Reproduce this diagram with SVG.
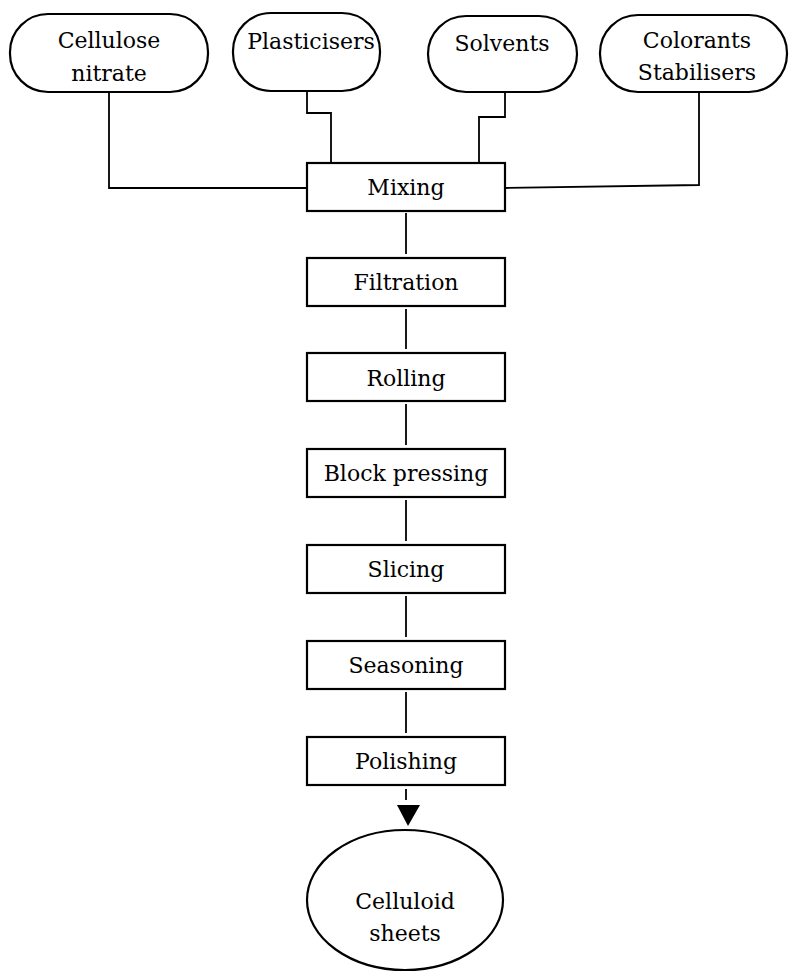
<svg xmlns="http://www.w3.org/2000/svg" width="789" height="972" viewBox="0 0 789 972">
<style>
  .shape { fill: #ffffff; stroke: #000000; stroke-width: 2.2; }
  .conn { fill: none; stroke: #000000; stroke-width: 1.8; }
  .lbl { font-family: "DejaVu Serif", "Liberation Serif", serif; font-size: 22px; fill: #000000; text-anchor: middle; }
</style>
<rect width="789" height="972" fill="#ffffff"/>
<g id="connectors">
  <path class="conn" d="M109 92 V188 H307"/>
  <path class="conn" d="M307 91 V113 H331 V163"/>
  <path class="conn" d="M505 92 V117 H479 V163"/>
  <path class="conn" d="M699 92 V185 L505 188"/>
  <path class="conn" d="M406 213 V254"/>
  <path class="conn" d="M406 309 V349"/>
  <path class="conn" d="M406 404 V445"/>
  <path class="conn" d="M406 500 V541"/>
  <path class="conn" d="M406 596 V637"/>
  <path class="conn" d="M406 692 V733"/>
  <path class="conn" d="M406 789 V800"/>
  <polygon points="397,805 420,805 408,826" fill="#000000"/>
</g>
<g id="cellulose-nitrate">
  <rect class="shape" x="10" y="14" width="198" height="78" rx="38" ry="38"/>
  <text class="lbl" x="109" y="48">Cellulose</text>
  <text class="lbl" x="109" y="81">nitrate</text>
</g>
<g id="plasticisers">
  <rect class="shape" x="233" y="13" width="147" height="78" rx="38" ry="38"/>
  <text class="lbl" x="311" y="49">Plasticisers</text>
</g>
<g id="solvents">
  <rect class="shape" x="428" y="16" width="149" height="76" rx="38" ry="38"/>
  <text class="lbl" x="502" y="51">Solvents</text>
</g>
<g id="colorants-stabilisers">
  <rect class="shape" x="600" y="15" width="187" height="77" rx="38" ry="38"/>
  <text class="lbl" x="697" y="48">Colorants</text>
  <text class="lbl" x="697" y="80">Stabilisers</text>
</g>
<g id="mixing">
  <rect class="shape" x="307" y="163" width="198" height="48"/>
  <text class="lbl" x="406" y="195">Mixing</text>
</g>
<g id="filtration">
  <rect class="shape" x="307" y="258" width="198" height="48"/>
  <text class="lbl" x="406" y="290">Filtration</text>
</g>
<g id="rolling">
  <rect class="shape" x="307" y="353" width="198" height="48"/>
  <text class="lbl" x="406" y="386">Rolling</text>
</g>
<g id="block-pressing">
  <rect class="shape" x="307" y="449" width="198" height="48"/>
  <text class="lbl" x="406" y="481">Block pressing</text>
</g>
<g id="slicing">
  <rect class="shape" x="307" y="545" width="198" height="48"/>
  <text class="lbl" x="406" y="577">Slicing</text>
</g>
<g id="seasoning">
  <rect class="shape" x="307" y="641" width="198" height="48"/>
  <text class="lbl" x="406" y="673">Seasoning</text>
</g>
<g id="polishing">
  <rect class="shape" x="307" y="737" width="198" height="48"/>
  <text class="lbl" x="406" y="769">Polishing</text>
</g>
<g id="celluloid-sheets">
  <ellipse class="shape" cx="405" cy="900" rx="98" ry="70"/>
  <text class="lbl" x="405" y="909">Celluloid</text>
  <text class="lbl" x="405" y="941">sheets</text>
</g>
</svg>
